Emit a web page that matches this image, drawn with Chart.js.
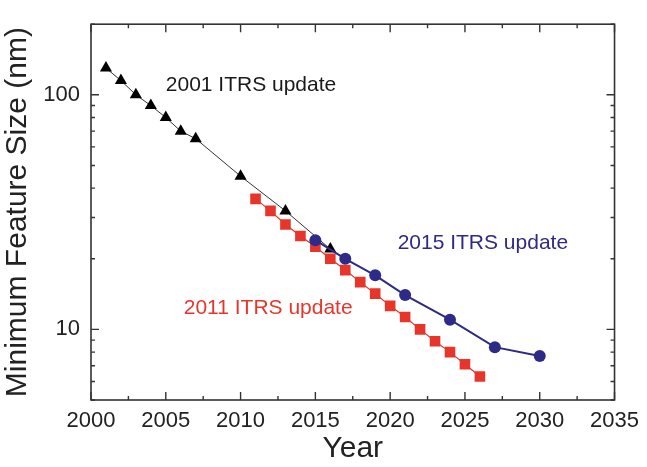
<!DOCTYPE html>
<html>
<head>
<meta charset="utf-8">
<script src="https://cdn.jsdelivr.net/npm/chart.js@4.4.1/dist/chart.umd.min.js"></script>
<style>
html,body{margin:0;padding:0;background:#fff;}
#wrap{width:647px;height:467px;position:relative;}
</style>
</head>
<body>
<div id="wrap"><canvas id="c" width="647" height="467"></canvas></div>
<script>
// ---- data ----
const years2001 = [2001, 2002, 2003, 2004, 2005, 2006, 2007, 2010, 2013, 2016];
const size2001  = [130, 115, 100, 90, 80, 70, 65, 45, 32, 22];
const years2011 = [2011, 2012, 2013, 2014, 2015, 2016, 2017, 2018, 2019, 2020, 2021, 2022, 2023, 2024, 2025, 2026];
const size2011  = [36, 32, 28, 25, 22.5, 20, 17.9, 15.9, 14.2, 12.6, 11.3, 10, 8.9, 8, 7.1, 6.3];
const years2015 = [2015, 2017, 2019, 2021, 2024, 2027, 2030];
const size2015  = [24, 20, 17, 14, 11, 8.4, 7.7];
const xTickLabels = [2000, 2005, 2010, 2015, 2020, 2025, 2030, 2035];
const yTickLabels = [10, 100];
const annotations = [
  {text: '2001 ITRS update', x: 2005, y: 110, color: '#1a1a1a'},
  {text: '2015 ITRS update', x: 2020.5, y: 23.3, color: '#2e2a87'},
  {text: '2011 ITRS update', x: 2006.2, y: 12.3, color: '#e8352b'}
];

const pts = (xs, ys) => xs.map((x, i) => ({x, y: ys[i]}));
const FONT = "'Liberation Sans', Arial, sans-serif";

const framePlugin = {
  id: 'frame',
  afterDatasetsDraw(chart) {
    const {ctx, chartArea: a, scales: {x, y}} = chart;
    ctx.save();
    ctx.strokeStyle = '#333';
    ctx.lineWidth = 1.6;
    ctx.strokeRect(a.left, a.top, a.right - a.left, a.bottom - a.top);
    ctx.lineWidth = 1.4;
    ctx.beginPath();
    // x ticks
    for (let v = x.min; v <= x.max + 1e-9; v += 2.5) {
      const px = x.getPixelForValue(v);
      const major = Math.abs(v % 5) < 1e-6;
      const L = major ? 8 : 4;
      ctx.moveTo(px, a.bottom); ctx.lineTo(px, a.bottom - L);
      ctx.moveTo(px, a.top); ctx.lineTo(px, a.top + L);
    }
    // y ticks (log)
    for (let dec = 1; dec <= 100; dec *= 10) {
      for (let m = 1; m <= 9; m++) {
        const v = m * dec;
        if (v < y.min || v > y.max) continue;
        const py = y.getPixelForValue(v);
        const L = m === 1 ? 8 : 4;
        ctx.moveTo(a.left, py); ctx.lineTo(a.left + L, py);
        ctx.moveTo(a.right, py); ctx.lineTo(a.right - L, py);
      }
    }
    ctx.stroke();
    // annotations
    ctx.font = '21px ' + FONT;
    ctx.textBaseline = 'middle';
    ctx.textAlign = 'left';
    annotations.forEach(t => {
      ctx.fillStyle = t.color;
      ctx.fillText(t.text, x.getPixelForValue(t.x), y.getPixelForValue(t.y));
    });
    ctx.restore();
  }
};

new Chart(document.getElementById('c'), {
  type: 'scatter',
  data: {
    datasets: [
      {
        label: '2001 ITRS update',
        data: pts(years2001, size2001),
        showLine: true,
        borderColor: '#333',
        borderWidth: 1,
        backgroundColor: '#000',
        pointStyle: 'triangle',
        pointRadius: 7,
        pointBorderWidth: 0,
        order: 3
      },
      {
        label: '2011 ITRS update',
        data: pts(years2011, size2011),
        showLine: true,
        borderColor: '#e8352b',
        borderWidth: 1.2,
        backgroundColor: '#e8352b',
        pointStyle: 'rect',
        pointRadius: 7.5,
        pointBorderWidth: 0,
        order: 2
      },
      {
        label: '2015 ITRS update',
        data: pts(years2015, size2015),
        showLine: true,
        borderColor: '#2e2a87',
        borderWidth: 2,
        backgroundColor: '#2e2a87',
        pointStyle: 'circle',
        pointRadius: 6,
        pointBorderWidth: 0,
        order: 1
      }
    ]
  },
  options: {
    responsive: false,
    animation: false,
    layout: {padding: {left: 0, right: 27, top: 12, bottom: 0}},
    plugins: {legend: {display: false}, tooltip: {enabled: false}},
    scales: {
      x: {
        type: 'linear',
        min: 2000, max: 2035,
        afterBuildTicks: s => { s.ticks = xTickLabels.map(v => ({value: v})); },
        afterFit: s => { s.height = 67; },
        grid: {display: false, drawTicks: false},
        border: {display: false},
        ticks: {
          color: '#222',
          font: {family: FONT, size: 22},
          padding: 8,
          maxRotation: 0,
          autoSkip: false,
          callback: v => String(v)
        },
        title: {
          display: true,
          text: 'Year',
          color: '#222',
          font: {family: FONT, size: 30},
          padding: {top: 0, bottom: 0}
        }
      },
      y: {
        type: 'logarithmic',
        min: 5, max: 200,
        afterBuildTicks: s => { s.ticks = yTickLabels.map(v => ({value: v})); },
        afterFit: s => { s.width = 91; },
        grid: {display: false, drawTicks: false},
        border: {display: false},
        ticks: {
          color: '#222',
          font: {family: FONT, size: 22},
          padding: 11,
          autoSkip: false,
          callback: v => String(v)
        },
        title: {
          display: true,
          text: 'Minimum Feature Size (nm)',
          color: '#222',
          font: {family: FONT, size: 30},
          padding: {top: 0, bottom: 0}
        }
      }
    }
  },
  plugins: [framePlugin]
});
</script>
</body>
</html>
